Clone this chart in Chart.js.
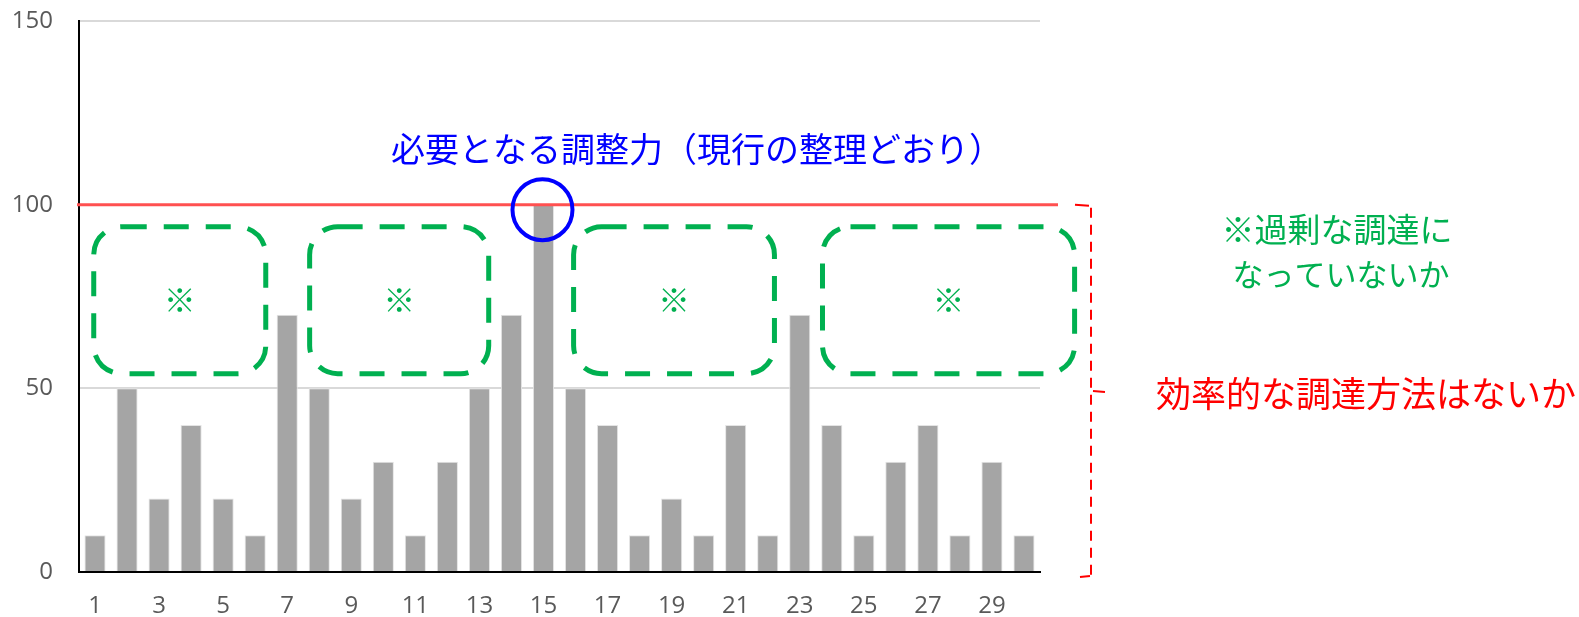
<!DOCTYPE html>
<html>
<head>
<meta charset="utf-8">
<script src="https://cdn.jsdelivr.net/npm/chart.js@4/dist/chart.umd.min.js"></script>
<style>
  html, body { margin: 0; padding: 0; background: #fff; }
  #wrap { width: 1579px; height: 617px; position: relative; }
</style>
</head>
<body>
<div id="wrap"><canvas id="chart" width="1579" height="617"></canvas></div>
<script>
const days = Array.from({ length: 30 }, (_, i) => String(i + 1));
const demand = [10, 50, 20, 40, 20, 10, 70, 50, 20, 30, 10, 30, 50, 70, 100,
                50, 40, 10, 20, 10, 40, 10, 70, 40, 10, 30, 40, 10, 30, 10];
const yTicks = [0, 50, 100, 150];
const requiredLevel = 100;

// note boxes: [from index, to index] in category units, value band
const noteBoxes = [[-0.04, 5.33], [6.7, 12.29], [14.94, 21.21], [22.71, 30.58]];
const noteBand = [54, 94];

const titleBlue = '必要となる調整力（現行の整理どおり）';
const noteGreen = ['※過剰な調達に', 'なっていないか'];
const noteRed = '効率的な調達方法はないか';

const FONT = '"Noto Sans CJK JP", "Noto Sans", sans-serif';
const TICK_FONT = '"Open Sans", "DejaVu Sans", sans-serif';

function roundRect(ctx, x, y, w, h, r) {
  ctx.beginPath();
  ctx.moveTo(x + r, y);
  ctx.lineTo(x + w - r, y);
  ctx.arcTo(x + w, y, x + w, y + r, r);
  ctx.lineTo(x + w, y + h - r);
  ctx.arcTo(x + w, y + h, x + w - r, y + h, r);
  ctx.lineTo(x + r, y + h);
  ctx.arcTo(x, y + h, x, y + h - r, r);
  ctx.lineTo(x, y + r);
  ctx.arcTo(x, y, x + r, y, r);
  ctx.closePath();
}

const overlay = {
  id: 'overlay',
  afterDatasetsDraw(chart) {
    const { ctx, scales: { x, y }, chartArea } = chart;
    const xs = (v) => x.getPixelForValue(0) + v * (x.getPixelForValue(1) - x.getPixelForValue(0));
    ctx.save();

    // required level line
    const yReq = y.getPixelForValue(requiredLevel);
    ctx.strokeStyle = '#ff5050';
    ctx.lineWidth = 3;
    ctx.beginPath();
    ctx.moveTo(chartArea.left - 2, yReq);
    ctx.lineTo(chartArea.right + 18, yReq);
    ctx.stroke();

    // green dashed boxes
    ctx.strokeStyle = '#00b050';
    ctx.lineWidth = 5;
    ctx.setLineDash([25, 17]);
    const top = y.getPixelForValue(noteBand[1]);
    const bot = y.getPixelForValue(noteBand[0]);
    noteBoxes.forEach(([a, b]) => {
      const l = xs(a), r = xs(b);
      roundRect(ctx, l, top, r - l, bot - top, 28);
      ctx.stroke();
      ctx.fillStyle = '#00b050';
      ctx.font = '32px ' + FONT;
      ctx.textAlign = 'center';
      ctx.textBaseline = 'middle';
      ctx.fillText('※', (l + r) / 2, (top + bot) / 2);
    });
    ctx.setLineDash([]);

    // circle at peak
    const peak = demand.indexOf(Math.max(...demand));
    ctx.strokeStyle = '#0000ff';
    ctx.lineWidth = 4;
    ctx.beginPath();
    ctx.ellipse(x.getPixelForValue(peak) - 1, yReq + 5, 30, 30.5, 0, 0, Math.PI * 2);
    ctx.stroke();

    // blue title
    ctx.fillStyle = '#0000ff';
    ctx.font = '34px ' + FONT;
    ctx.textAlign = 'center';
    ctx.textBaseline = 'middle';
    ctx.fillText(titleBlue, 697, 149);

    // red bracket
    ctx.strokeStyle = '#ff0000';
    ctx.lineWidth = 2;
    ctx.setLineDash([10, 7]);
    const bx = 1091;
    const yb = y.getPixelForValue(0);
    ctx.beginPath();
    ctx.moveTo(bx, yReq + 3);
    ctx.lineTo(bx, yb + 4);
    ctx.stroke();
    ctx.setLineDash([]);
    ctx.beginPath();
    ctx.moveTo(1075, yReq); ctx.lineTo(1089, yReq + 1);
    ctx.moveTo(1093, 391); ctx.lineTo(1105, 392);
    ctx.moveTo(1080, yb + 5); ctx.lineTo(1090, yb + 4);
    ctx.stroke();

    // green note
    ctx.fillStyle = '#00b050';
    ctx.font = '33px ' + FONT;
    ctx.fillText(noteGreen[0], 1337, 229);
    ctx.font = '31px ' + FONT;
    ctx.fillText(noteGreen[1], 1341, 274);

    // red note
    ctx.fillStyle = '#ff0000';
    ctx.font = '35px ' + FONT;
    ctx.fillText(noteRed, 1366, 394);

    ctx.restore();
  }
};

new Chart(document.getElementById('chart'), {
  type: 'bar',
  data: {
    labels: days,
    datasets: [{
      data: demand,
      backgroundColor: '#a5a5a5',
      borderColor: '#e4e4e4',
      borderWidth: 1,
      barPercentage: 0.66,
      categoryPercentage: 1
    }]
  },
  options: {
    responsive: false,
    animation: false,
    layout: { padding: { top: 21, right: 539, left: 0, bottom: 0 } },
    plugins: { legend: { display: false }, tooltip: { enabled: false } },
    scales: {
      x: {
        grid: { display: false, drawTicks: false },
        border: { color: '#000', width: 2 },
        ticks: {
          autoSkip: false,
          maxRotation: 0,
          padding: 20,
          color: '#595959',
          font: { size: 24, family: TICK_FONT },
          callback: (v, i) => (i % 2 === 0 ? days[i] : '')
        },
        afterFit: (s) => { s.height = 45; s.paddingLeft = 0; s.paddingRight = 0; }
      },
      y: {
        min: 0,
        max: 150,
        afterBuildTicks: (s) => { s.ticks = yTicks.map(v => ({ value: v })); },
        grid: { color: '#d9d9d9', lineWidth: 2, drawTicks: false },
        border: { color: '#000', width: 2 },
        ticks: {
          padding: 26,
          color: '#595959',
          font: { size: 24, family: TICK_FONT }
        },
        afterFit: (s) => { s.width = 79; s.paddingTop = 0; s.paddingBottom = 0; }
      }
    }
  },
  plugins: [overlay]
});
</script>
</body>
</html>
